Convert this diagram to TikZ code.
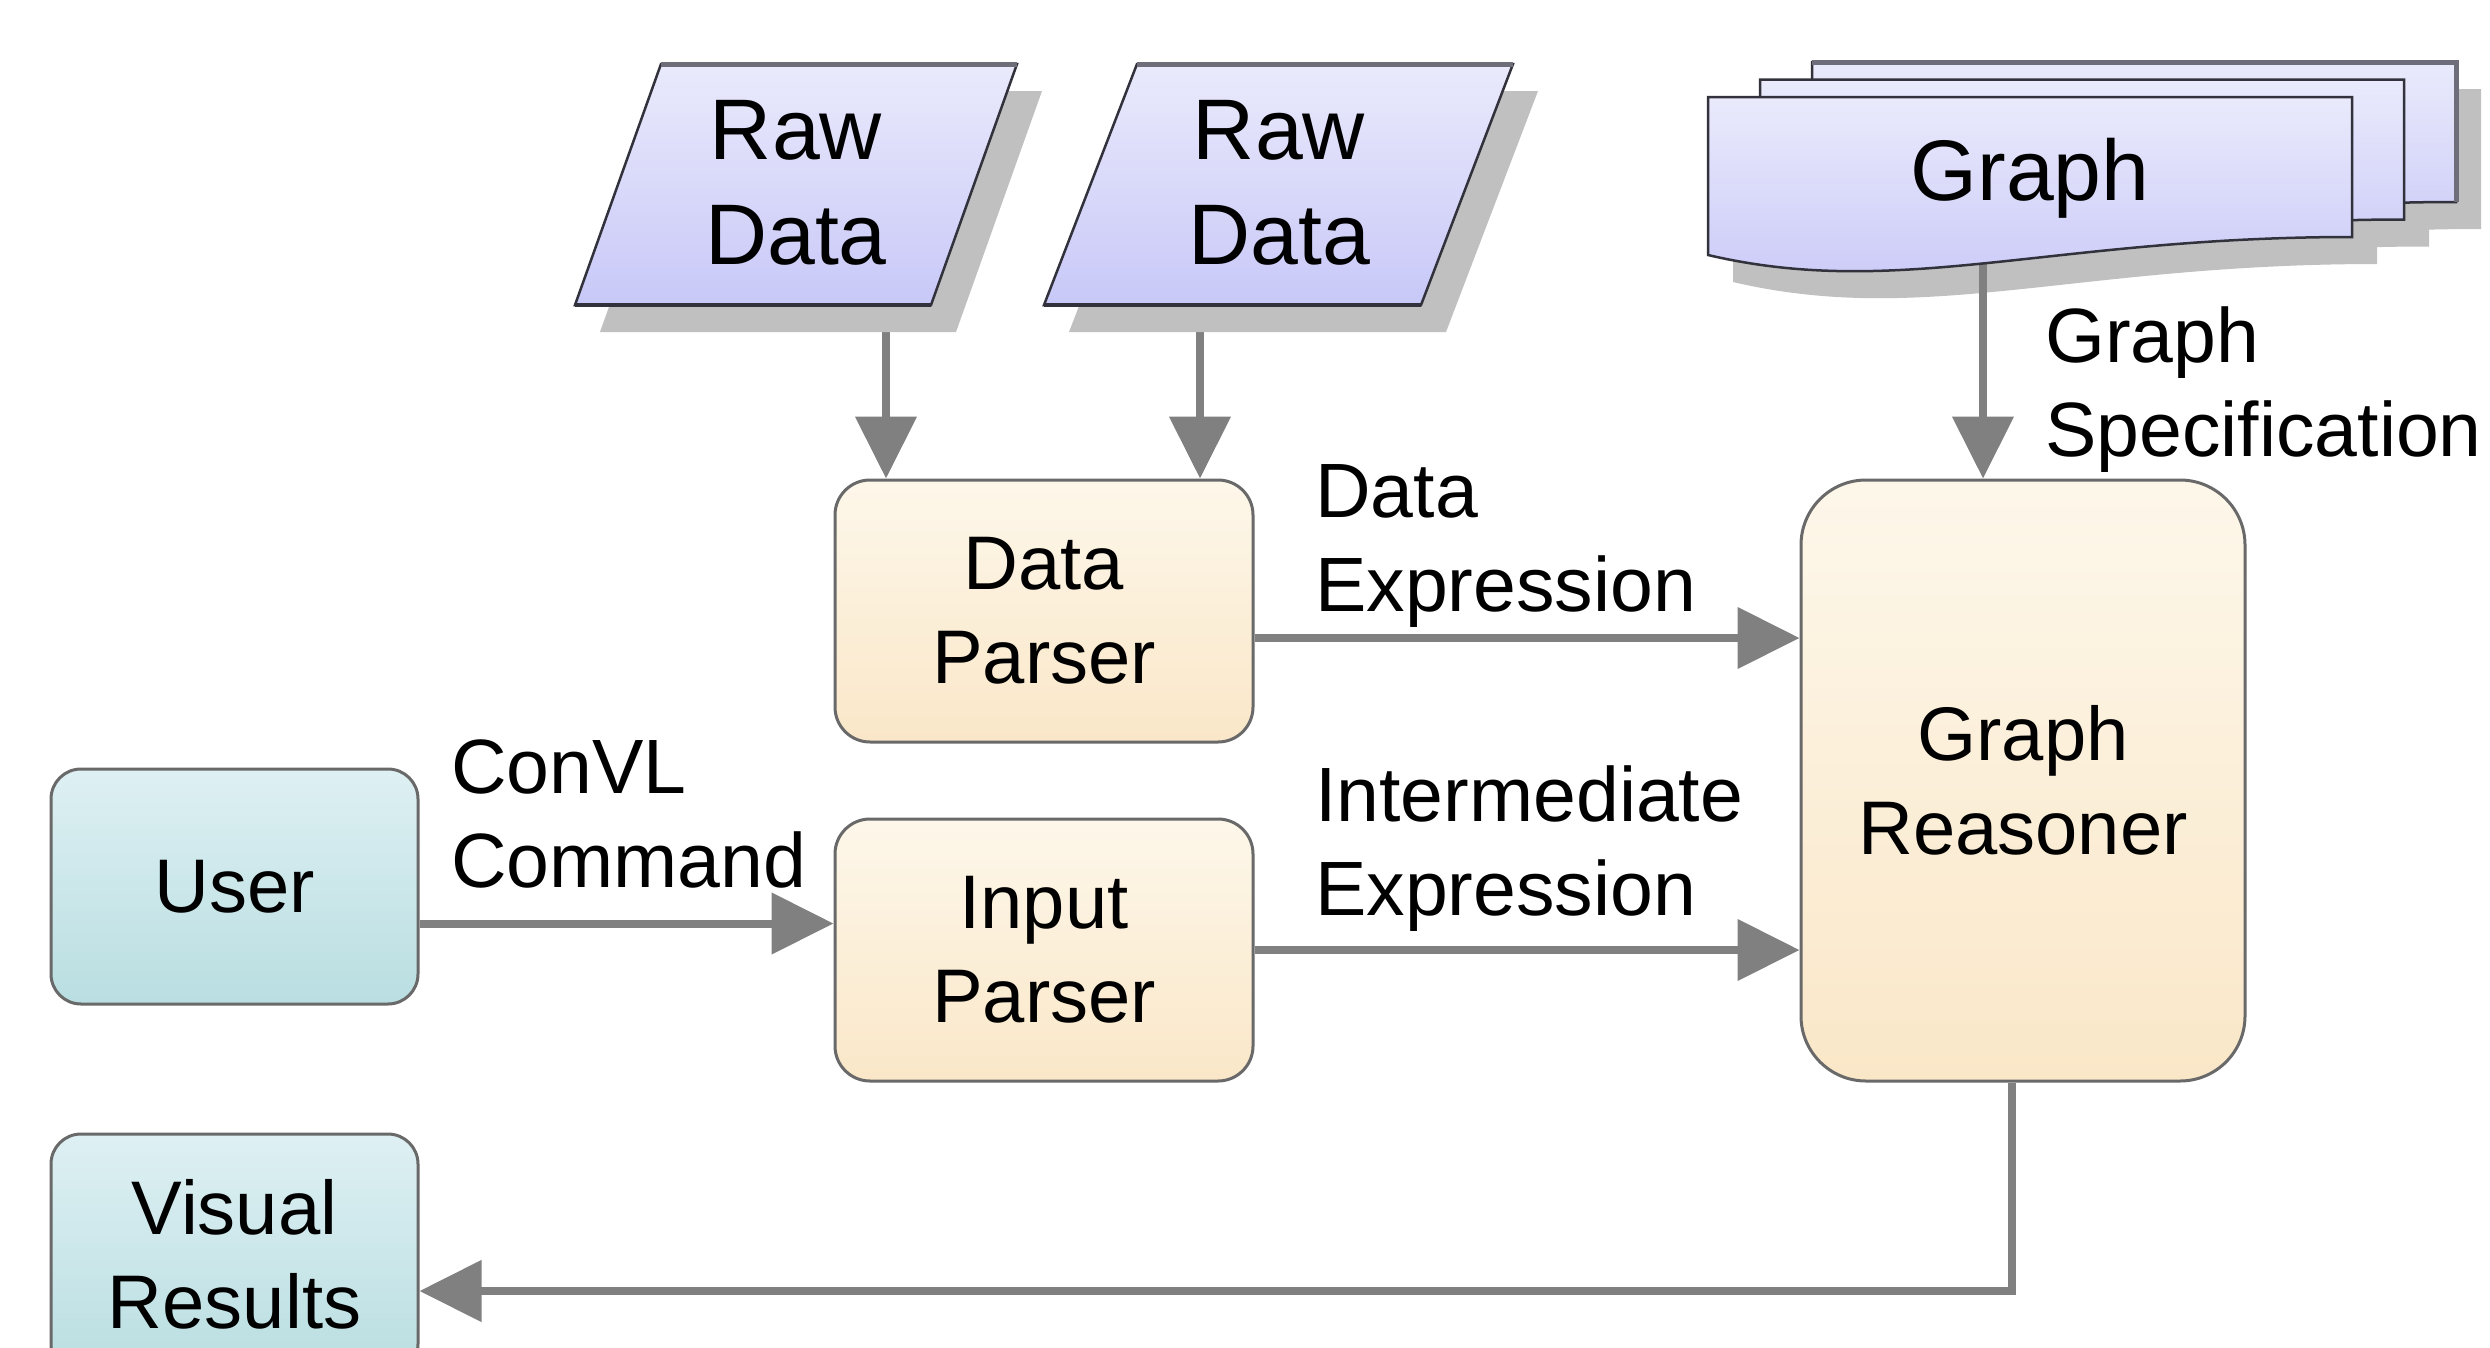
\documentclass[tikz,border=0pt]{standalone}
\usepackage{fontspec}
\setmainfont{Liberation Sans}
\usetikzlibrary{arrows.meta,calc}
\definecolor{lavtop}{RGB}{234,234,252}
\definecolor{lavbot}{RGB}{200,200,248}
\definecolor{crtop}{RGB}{253,247,234}
\definecolor{crbot}{RGB}{250,231,200}
\definecolor{tltop}{RGB}{222,240,243}
\definecolor{tlbot}{RGB}{185,222,225}
\definecolor{arrgray}{RGB}{128,128,128}
\definecolor{shad}{RGB}{192,192,192}
\definecolor{edgegray}{RGB}{105,105,105}
\definecolor{pedge}{RGB}{50,50,60}
\definecolor{topedge}{RGB}{110,110,122}
\begin{document}
\begin{tikzpicture}[x=1pt,y=-1pt,
  lbl/.style={font=\fontsize{77}{94}\selectfont, inner sep=0pt, align=left, anchor=north west},
  proc/.style={draw=edgegray, line width=3pt, rounded corners=35pt, top color=crtop, bottom color=crbot,
    font=\fontsize{76}{94}\selectfont, align=center, inner sep=0pt},
  actor/.style={proc, rounded corners=30pt, top color=tltop, bottom color=tlbot},
  arr/.style={draw=arrgray, line width=8pt, -{Triangle[length=62pt,width=60pt]}},
  datatxt/.style={font=\fontsize{86}{105}\selectfont, align=center, inner sep=0pt},
  shadowfill/.style={fill=shad},
  datashape/.style={top color=lavtop, bottom color=lavbot, draw=pedge, line width=2.5pt},
]
\useasboundingbox (0,0) rectangle (2490,1347);
\fill[white] (0,0) rectangle (2490,1347);

% process boxes
\node[proc, minimum width=418pt, minimum height=262pt] (dp) at (1044,611) {Data\\Parser};
\node[proc, minimum width=418pt, minimum height=262pt] (ip) at (1044,950) {Input\\Parser};
\node[proc, rounded corners=65pt, minimum width=444pt, minimum height=601pt] (gr) at (2023,780.5) {Graph\\Reasoner};
\node[actor, minimum width=367pt, minimum height=235pt] (user) at (234.5,886.5) {User};
\node[actor, minimum width=367pt, minimum height=240pt] (vr) at (234.5,1254) {Visual\\Results};

% connector anchor points
\coordinate (r1) at (886,300);
\coordinate (r2) at (1200,300);
\coordinate (gsrc) at (1983,250);
\coordinate (dpout) at ([yshift=-27pt]dp.east);
\coordinate (uout) at ([yshift=-37pt]user.east);
\coordinate (grout) at ([xshift=-11pt]gr.south);
\coordinate (vrin) at ([yshift=-37pt]vr.east);

% connectors
\draw[arr] (r1) -- (r1 |- dp.north);
\draw[arr] (r2) -- (r2 |- dp.north);
\draw[arr] (dpout) -- (dpout -| gr.west);
\draw[arr] (ip.east) -- (ip.east -| gr.west);
\draw[arr] (uout) -- (uout -| ip.west);
\draw[arr] (grout) -- (grout |- vrin) -- (vrin);

% shadows of data shapes
\begin{scope}[shift={(25,27)}]
  \fill[shadowfill] (575,305) -- (931,305) -- (1017,64) -- (661,64) -- cycle;
  \fill[shadowfill] (1044,305) -- (1421,305) -- (1513,64) -- (1137,64) -- cycle;
  \begin{scope}[shift={(104,-35)}]
    \fill[shadowfill] (1708,97) -- (2352,97) -- (2352,237) .. controls (2050,237) and (1900,300) .. (1708,255) -- cycle;
  \end{scope}
  \begin{scope}[shift={(52,-17.5)}]
    \fill[shadowfill] (1708,97) -- (2352,97) -- (2352,237) .. controls (2050,237) and (1900,300) .. (1708,255) -- cycle;
  \end{scope}
  \fill[shadowfill] (1708,97) -- (2352,97) -- (2352,237) .. controls (2050,237) and (1900,300) .. (1708,255) -- cycle;
\end{scope}

% graph specification connector (drawn over the stack's shadow)
\draw[arr] (gsrc) -- (gsrc |- gr.north);

% raw data parallelograms
\path[datashape] (575,305) -- (931,305) -- (1017,64) -- (661,64) -- cycle;
\draw[topedge, line width=5pt] (661,64) -- (1017,64);
\draw[pedge, line width=4pt] (575,305) -- (931,305);
\path[datashape] (1044,305) -- (1421,305) -- (1513,64) -- (1137,64) -- cycle;
\draw[topedge, line width=5pt] (1137,64) -- (1513,64);
\draw[pedge, line width=4pt] (1044,305) -- (1421,305);

% graph document stack
\begin{scope}[shift={(104,-35)}]
  \path[datashape] (1708,97) -- (2352,97) -- (2352,237) .. controls (2050,237) and (1900,300) .. (1708,255) -- cycle;
  \draw[topedge, line width=5pt] (1708,97) -- (2352,97) -- (2352,237);
\end{scope}
\begin{scope}[shift={(52,-17.5)}]
  \path[datashape] (1708,97) -- (2352,97) -- (2352,237) .. controls (2050,237) and (1900,300) .. (1708,255) -- cycle;
\end{scope}
\path[datashape] (1708,97) -- (2352,97) -- (2352,237) .. controls (2050,237) and (1900,300) .. (1708,255) -- cycle;

% data texts
\node[datatxt] (rd1) at (796,183) {Raw\\Data};
\node[datatxt] (rd2) at (1279,183) {Raw\\Data};
\node[datatxt] (graph) at (2030,178) {Graph};

% labels
\node[lbl] (lgs) at (2045,306) {Graph\\Specification};
\node[lbl] (lde) at (1315,464) {Data\\Expression};
\node[lbl] (lie) at (1315,765) {Intermediate\\Expression};
\node[lbl] (lcc) at (451,740) {ConVL\\Command};
\end{tikzpicture}
\end{document}
